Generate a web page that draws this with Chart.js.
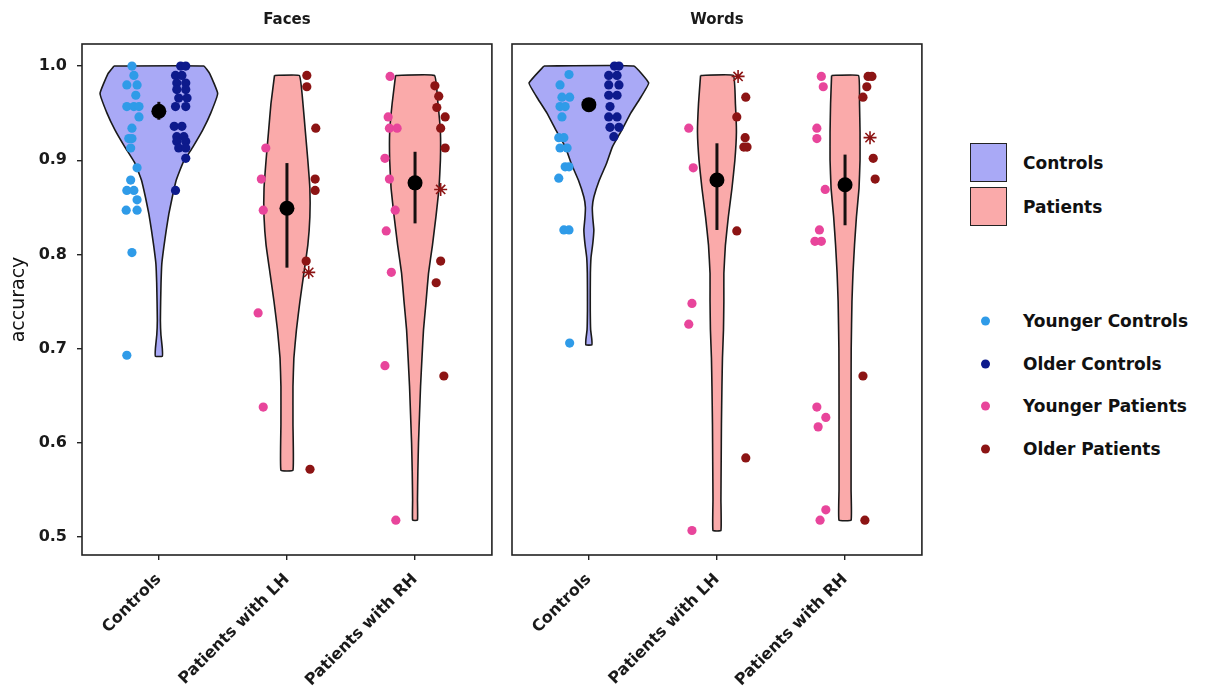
<!DOCTYPE html>
<html>
<head>
<meta charset="utf-8">
<script src="https://cdn.jsdelivr.net/npm/chart.js@4.4.1/dist/chart.umd.min.js"></script>
<style>
  body { margin: 0; background: #fff; width: 1217px; height: 699px; position: relative; overflow: hidden; font-family: 'DejaVu Sans', sans-serif; }
  .wrap { position: absolute; top: 0; height: 699px; }
  #w1 { left: 0; width: 500px; }
  #w2 { left: 500px; width: 430px; }
  .key { position: absolute; left: 970px; width: 37px; height: 39px; border: 1.5px solid #222; box-sizing: border-box; }
  .lab { position: absolute; left: 1023px; font-weight: bold; font-size: 17px; color: #111; transform: translateY(-50%); white-space: nowrap; }
  .dot { position: absolute; left: 981px; width: 9px; height: 9px; border-radius: 50%; transform: translateY(-50%); }
</style>
</head>
<body>
<div class="wrap" id="w1"><canvas id="faces"></canvas></div>
<div class="wrap" id="w2"><canvas id="words"></canvas></div>
<div id="legend"></div>
<script>
const categories = ['Controls', 'Patients with LH', 'Patients with RH'];
const yTicks = [0.5, 0.6, 0.7, 0.8, 0.9, 1.0];

const groupNames = ['Younger Controls', 'Older Controls', 'Younger Patients', 'Older Patients'];
const groupColors = ['#2f9be8', '#0d1a8c', '#e8459b', '#8c1414'];
const violinNames = ['Controls', 'Patients'];
const violinColors = ['#a9a9f6', '#faaaaa'];

// ---- Faces ----
const facesMean = [0.952, 0.849, 0.876];
const facesLo = [0.943, 0.786, 0.833];
const facesHi = [0.962, 0.897, 0.909];

const facesCtrlLevels = [1.0, 0.992, 0.971, 0.95, 0.932, 0.914, 0.897, 0.879, 0.861, 0.843, 0.826, 0.808, 0.79, 0.77, 0.75, 0.73, 0.715, 0.70, 0.692];
const facesCtrlHalf = [0.35, 0.397, 0.459, 0.405, 0.342, 0.265, 0.187, 0.136, 0.105, 0.078, 0.058, 0.039, 0.023, 0.017, 0.014, 0.012, 0.016, 0.027, 0.027];
const facesLhLevels = [0.99, 0.96, 0.93, 0.90, 0.87, 0.84, 0.81, 0.78, 0.75, 0.72, 0.69, 0.66, 0.62, 0.571];
const facesLhHalf = [0.097, 0.125, 0.144, 0.163, 0.179, 0.179, 0.163, 0.132, 0.101, 0.074, 0.054, 0.047, 0.047, 0.047];
const facesRhLevels = [0.99, 0.96, 0.93, 0.90, 0.87, 0.84, 0.81, 0.78, 0.75, 0.72, 0.69, 0.66, 0.63, 0.60, 0.57, 0.54, 0.518];
const facesRhHalf = [0.152, 0.179, 0.198, 0.198, 0.187, 0.163, 0.136, 0.105, 0.086, 0.066, 0.054, 0.043, 0.035, 0.027, 0.022, 0.019, 0.019];

const facesCtrlYoungAcc = [1.0, 0.99, 0.98, 0.98, 0.969, 0.957, 0.957, 0.957, 0.946, 0.934, 0.923, 0.923, 0.913, 0.892, 0.879, 0.868, 0.868, 0.858, 0.847, 0.847, 0.802, 0.693];
const facesCtrlYoungJit = [-0.21, -0.195, -0.25, -0.17, -0.18, -0.25, -0.195, -0.155, -0.155, -0.21, -0.235, -0.21, -0.22, -0.17, -0.22, -0.25, -0.195, -0.17, -0.255, -0.17, -0.21, -0.25];
const facesCtrlOldAcc = [1.0, 1.0, 0.99, 0.99, 0.982, 0.982, 0.975, 0.975, 0.966, 0.966, 0.957, 0.957, 0.936, 0.936, 0.925, 0.925, 0.92, 0.92, 0.913, 0.913, 0.902, 0.868];
const facesCtrlOldJit = [0.17, 0.21, 0.13, 0.18, 0.14, 0.21, 0.14, 0.21, 0.155, 0.22, 0.13, 0.21, 0.12, 0.18, 0.14, 0.195, 0.14, 0.21, 0.155, 0.21, 0.21, 0.13];
const facesLhYoungAcc = [0.913, 0.880, 0.847, 0.738, 0.638];
const facesLhYoungJit = [-0.165, -0.2, -0.185, -0.225, -0.185];
const facesLhOldAcc = [0.990, 0.978, 0.934, 0.880, 0.868, 0.793, 0.572];
const facesLhOldJit = [0.155, 0.155, 0.225, 0.22, 0.22, 0.15, 0.18];
const facesLhStarAcc = [0.781];
const facesLhStarJit = [0.17];
const facesRhYoungAcc = [0.989, 0.946, 0.934, 0.934, 0.902, 0.880, 0.847, 0.825, 0.781, 0.682, 0.518];
const facesRhYoungJit = [-0.195, -0.21, -0.2, -0.14, -0.235, -0.2, -0.155, -0.225, -0.185, -0.235, -0.15];
const facesRhOldAcc = [0.979, 0.968, 0.956, 0.946, 0.934, 0.913, 0.793, 0.770, 0.671];
const facesRhOldJit = [0.155, 0.185, 0.17, 0.235, 0.2, 0.235, 0.2, 0.165, 0.225];
const facesRhStarAcc = [0.869];
const facesRhStarJit = [0.2];

// ---- Words ----
const wordsMean = [0.959, 0.879, 0.874];
const wordsLo = [0.952, 0.826, 0.831];
const wordsHi = [0.966, 0.918, 0.906];

const wordsCtrlLevels = [1.0, 0.982, 0.965, 0.95, 0.932, 0.914, 0.896, 0.879, 0.861, 0.85, 0.838, 0.826, 0.812, 0.797, 0.78, 0.76, 0.74, 0.72, 0.71, 0.704];
const wordsCtrlHalf = [0.35, 0.467, 0.397, 0.327, 0.257, 0.183, 0.136, 0.082, 0.039, 0.027, 0.031, 0.039, 0.031, 0.017, 0.012, 0.011, 0.011, 0.014, 0.023, 0.023];
const wordsLhLevels = [0.99, 0.96, 0.93, 0.90, 0.87, 0.84, 0.81, 0.78, 0.75, 0.72, 0.69, 0.66, 0.62, 0.58, 0.54, 0.507];
const wordsLhHalf = [0.128, 0.144, 0.152, 0.14, 0.117, 0.089, 0.066, 0.054, 0.054, 0.051, 0.043, 0.039, 0.035, 0.033, 0.031, 0.031];
const wordsRhLevels = [0.99, 0.96, 0.93, 0.90, 0.87, 0.84, 0.81, 0.78, 0.75, 0.70, 0.65, 0.60, 0.55, 0.518];
const wordsRhHalf = [0.105, 0.113, 0.117, 0.117, 0.109, 0.089, 0.074, 0.062, 0.054, 0.048, 0.047, 0.047, 0.047, 0.047];

const wordsCtrlYoungAcc = [0.991, 0.980, 0.967, 0.967, 0.957, 0.957, 0.946, 0.924, 0.924, 0.913, 0.913, 0.893, 0.893, 0.881, 0.826, 0.826, 0.706];
const wordsCtrlYoungJit = [-0.155, -0.225, -0.21, -0.15, -0.225, -0.185, -0.21, -0.235, -0.195, -0.225, -0.17, -0.185, -0.155, -0.235, -0.195, -0.155, -0.15];
const wordsCtrlOldAcc = [1.0, 1.0, 0.990, 0.990, 0.980, 0.980, 0.969, 0.969, 0.957, 0.946, 0.946, 0.935, 0.935, 0.925];
const wordsCtrlOldJit = [0.2, 0.235, 0.155, 0.22, 0.155, 0.235, 0.155, 0.22, 0.165, 0.155, 0.22, 0.165, 0.235, 0.195];
const wordsLhYoungAcc = [0.934, 0.892, 0.748, 0.726, 0.507];
const wordsLhYoungJit = [-0.22, -0.185, -0.195, -0.22, -0.195];
const wordsLhOldAcc = [0.967, 0.946, 0.924, 0.914, 0.914, 0.825, 0.584];
const wordsLhOldJit = [0.225, 0.155, 0.22, 0.21, 0.235, 0.155, 0.225];
const wordsLhStarAcc = [0.989];
const wordsLhStarJit = [0.165];
const wordsRhYoungAcc = [0.989, 0.978, 0.934, 0.923, 0.869, 0.826, 0.814, 0.814, 0.638, 0.627, 0.617, 0.529, 0.518];
const wordsRhYoungJit = [-0.185, -0.17, -0.22, -0.22, -0.155, -0.2, -0.235, -0.185, -0.22, -0.15, -0.21, -0.15, -0.195];
const wordsRhOldAcc = [0.989, 0.989, 0.978, 0.967, 0.902, 0.880, 0.671, 0.518];
const wordsRhOldJit = [0.18, 0.21, 0.17, 0.14, 0.22, 0.235, 0.14, 0.155];
const wordsRhStarAcc = [0.924];
const wordsRhStarJit = [0.195];

Chart.defaults.font.family = "'DejaVu Sans', sans-serif";
Chart.defaults.color = '#1a1a1a';

function violin(cat, levels, half, color) {
    const left = levels.map((v, i) => ({ x: cat - half[i], y: v }));
    const right = levels.map((v, i) => ({ x: cat + half[i], y: v })).reverse();
    const pts = left.concat(right);
    pts.push(pts[0]);
    return { data: pts, showLine: true, fill: false, violinFill: color, borderColor: '#1a1a1a',
             borderWidth: 1.6, pointRadius: 0, tension: 0.1, order: 5 };
}

function dots(cat, acc, jit, color) {
    return { data: acc.map((v, i) => ({ x: cat + jit[i], y: v })), showLine: false,
             backgroundColor: color, borderWidth: 0, pointRadius: 4.6, order: 3 };
}

function stars(cat, acc, jit, color) {
    return { data: acc.map((v, i) => ({ x: cat + jit[i], y: v })), showLine: false, pointStyle: 'star',
             borderColor: color, backgroundColor: color, borderWidth: 1.6, pointRadius: 6.5, order: 2 };
}

function meanSets(mean, lo, hi) {
    const sets = [];
    mean.forEach((m, i) => {
        sets.push({ data: [{ x: i + 1, y: lo[i] }, { x: i + 1, y: hi[i] }], showLine: true, borderColor: '#151010',
                    borderWidth: 3, pointRadius: 0, order: 1 });
    });
    sets.push({ data: mean.map((m, i) => ({ x: i + 1, y: m })), showLine: false, backgroundColor: '#000',
                borderWidth: 0, pointRadius: 7.5, order: 0 });
    return sets;
}

// fills each violin with the same path chart.js uses for its outline
const violinFillPlugin = {
    id: 'violinFill',
    beforeDatasetsDraw(chart) {
        const ctx = chart.ctx;
        chart.data.datasets.forEach((ds, i) => {
            if (!ds.violinFill) return;
            const line = chart.getDatasetMeta(i).dataset;
            line.updateControlPoints(chart.chartArea, 'x');
            ctx.save();
            ctx.beginPath();
            line.path(ctx);
            ctx.closePath();
            ctx.fillStyle = ds.violinFill;
            ctx.fill();
            ctx.restore();
        });
    }
};

const framePlugin = {
    id: 'frame',
    afterDraw(chart, args, opts) {
        const { ctx, chartArea: a } = chart;
        ctx.save();
        ctx.strokeStyle = '#222';
        ctx.lineWidth = 1.6;
        ctx.strokeRect(a.left, a.top, a.right - a.left, a.bottom - a.top);
        ctx.font = "bold 15px 'DejaVu Sans'";
        ctx.fillStyle = '#1a1a1a';
        ctx.textAlign = 'center';
        ctx.textBaseline = 'middle';
        ctx.fillText(opts.strip, (a.left + a.right) / 2, a.top - 24);
        ctx.restore();
    }
};

function makePanel(id, strip, datasets, showY, pad) {
    return new Chart(document.getElementById(id), {
        type: 'scatter',
        data: { datasets: datasets },
        options: {
            animation: false,
            responsive: true,
            maintainAspectRatio: false,
            layout: { padding: pad },
            plugins: { legend: { display: false }, tooltip: { enabled: false }, frame: { strip: strip } },
            scales: {
                x: {
                    type: 'linear', min: 0.4, max: 3.6,
                    afterBuildTicks: s => { s.ticks = [1, 2, 3].map(v => ({ value: v })); },
                    afterFit: s => { s.height = 144; },
                    ticks: { callback: v => categories[v - 1], autoSkip: false, minRotation: 45, maxRotation: 45,
                             font: { size: 16, weight: 'bold' }, color: '#1a1a1a', padding: 10 },
                    grid: { drawOnChartArea: false, drawTicks: true, tickLength: 5, color: '#222', lineWidth: 1.4 },
                    border: { display: false }
                },
                y: {
                    display: showY, min: 0.481, max: 1.0234,
                    afterBuildTicks: s => { s.ticks = yTicks.map(v => ({ value: v })); },
                    afterFit: s => { s.width = showY ? 82 : 0; },
                    ticks: { callback: v => v.toFixed(1), font: { size: 16, weight: 'bold' }, color: '#1a1a1a', padding: 10 },
                    grid: { drawOnChartArea: false, drawTicks: true, tickLength: 5, color: '#222', lineWidth: 1.4 },
                    border: { display: false },
                    title: { display: true, text: 'accuracy', font: { size: 19 }, color: '#111', padding: { top: 8 } }
                }
            }
        },
        plugins: [violinFillPlugin, framePlugin]
    });
}

const facesSets = [
    violin(1, facesCtrlLevels, facesCtrlHalf, violinColors[0]),
    violin(2, facesLhLevels, facesLhHalf, violinColors[1]),
    violin(3, facesRhLevels, facesRhHalf, violinColors[1]),
    dots(1, facesCtrlYoungAcc, facesCtrlYoungJit, groupColors[0]),
    dots(1, facesCtrlOldAcc, facesCtrlOldJit, groupColors[1]),
    dots(2, facesLhYoungAcc, facesLhYoungJit, groupColors[2]),
    dots(2, facesLhOldAcc, facesLhOldJit, groupColors[3]),
    stars(2, facesLhStarAcc, facesLhStarJit, groupColors[3]),
    dots(3, facesRhYoungAcc, facesRhYoungJit, groupColors[2]),
    dots(3, facesRhOldAcc, facesRhOldJit, groupColors[3]),
    stars(3, facesRhStarAcc, facesRhStarJit, groupColors[3])
].concat(meanSets(facesMean, facesLo, facesHi));

const wordsSets = [
    violin(1, wordsCtrlLevels, wordsCtrlHalf, violinColors[0]),
    violin(2, wordsLhLevels, wordsLhHalf, violinColors[1]),
    violin(3, wordsRhLevels, wordsRhHalf, violinColors[1]),
    dots(1, wordsCtrlYoungAcc, wordsCtrlYoungJit, groupColors[0]),
    dots(1, wordsCtrlOldAcc, wordsCtrlOldJit, groupColors[1]),
    dots(2, wordsLhYoungAcc, wordsLhYoungJit, groupColors[2]),
    dots(2, wordsLhOldAcc, wordsLhOldJit, groupColors[3]),
    stars(2, wordsLhStarAcc, wordsLhStarJit, groupColors[3]),
    dots(3, wordsRhYoungAcc, wordsRhYoungJit, groupColors[2]),
    dots(3, wordsRhOldAcc, wordsRhOldJit, groupColors[3]),
    stars(3, wordsRhStarAcc, wordsRhStarJit, groupColors[3])
].concat(meanSets(wordsMean, wordsLo, wordsHi));

makePanel('faces', 'Faces', facesSets, true, { top: 44, left: 0, right: 6, bottom: 0 });
makePanel('words', 'Words', wordsSets, false, { top: 44, left: 12, right: 7, bottom: 0 });

// legend (html)
const legend = document.getElementById('legend');
violinNames.forEach((name, i) => {
    const top = 143 + i * 44;
    legend.insertAdjacentHTML('beforeend',
        `<div class="key" style="top:${top}px;background:${violinColors[i]}"></div>` +
        `<div class="lab" style="top:${top + 20}px">${name}</div>`);
});
groupNames.forEach((name, i) => {
    const top = 321 + i * 42.5;
    legend.insertAdjacentHTML('beforeend',
        `<div class="dot" style="top:${top}px;background:${groupColors[i]}"></div>` +
        `<div class="lab" style="top:${top}px">${name}</div>`);
});
</script>
</body>
</html>
